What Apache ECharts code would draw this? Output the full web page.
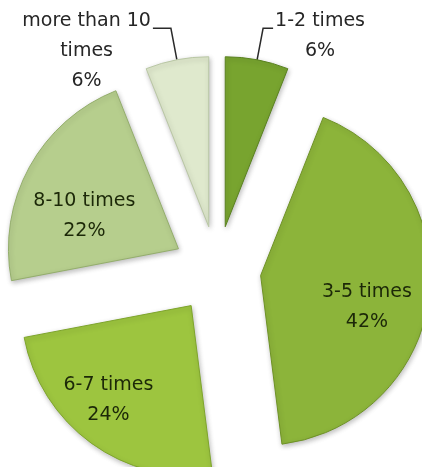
<!DOCTYPE html>
<html><head><meta charset="utf-8">
<script src="https://cdn.jsdelivr.net/npm/echarts@6/dist/echarts.min.js"></script>
<style>html,body{margin:0;padding:0;background:#fff}#c{width:422px;height:467px}</style>
</head><body><div id="c"></div>
<script>
// ---- data ----
const categories = ['1-2 times', '3-5 times', '6-7 times', '8-10 times', 'more than 10\ntimes'];
const values = [6, 42, 24, 22, 6];

// ---- styles ----
const colors = ['#78a42f', '#8cb43a', '#9dc53f', '#b6ce8d', '#dfe9cd'];
const borderColors = ['#5a8220', '#6e9226', '#7ea52c', '#94ae6c', '#b9c7a4'];
const labelPos = ['outside', 'inside', 'inside', 'inside', 'outside'];
const labelShift = [[0, 0], [19, 21], [-31, 23], [-17, 10], [0, 0]];
const lineLen = [[32, 10], [0, 0], [0, 0], [0, 0], [32, 18]];
const labelPad = [[16, 0, 0, 0], 0, 0, 0, [46, 0, 0, 0]];

const chart = echarts.init(document.getElementById('c'), null, {renderer: 'canvas'});
const FONT = 'DejaVu Sans';

const data = categories.map((name, i) => ({
  name: name,
  value: values[i],
  selected: true,
  itemStyle: {
    color: colors[i],
    borderColor: borderColors[i],
    borderWidth: 1
  },
  label: {
    position: labelPos[i],
    padding: labelPad[i],
    rich: {a: {fontFamily: FONT, fontSize: 19, lineHeight: 30, align: 'center',
      color: labelPos[i] === 'inside' ? '#1c2808' : '#262626'}}
  },
  labelLine: {show: labelPos[i] === 'outside', length: lineLen[i][0], length2: lineLen[i][1]}
}));

chart.setOption({
  animation: false,
  backgroundColor: '#ffffff',
  series: [{
    type: 'pie',
    center: [217, 270],
    radius: [0, 170],
    startAngle: 90,
    clockwise: true,
    selectedMode: 'multiple',
    selectedOffset: 44,
    avoidLabelOverlap: false,
    emphasis: {disabled: true},
    label: {
      fontFamily: FONT,
      fontSize: 19,
      lineHeight: 30,
      distanceToLabelLine: 2,
      formatter: p => p.name.split('\n').concat([Math.round(p.percent) + '%'])
        .map(s => '{a|' + s + '}').join('\n')
    },
    labelLine: {smooth: false, lineStyle: {color: '#2a2a2a', width: 1.5}},
    labelLayout: p => {
      const s = labelShift[p.dataIndex];
      return {dx: s[0], dy: s[1]};
    },
    itemStyle: {
      shadowBlur: 5, shadowColor: 'rgba(0,0,0,0.25)', shadowOffsetX: 1, shadowOffsetY: 2
    },
    data: data
  }]
});
</script>
</body></html>
